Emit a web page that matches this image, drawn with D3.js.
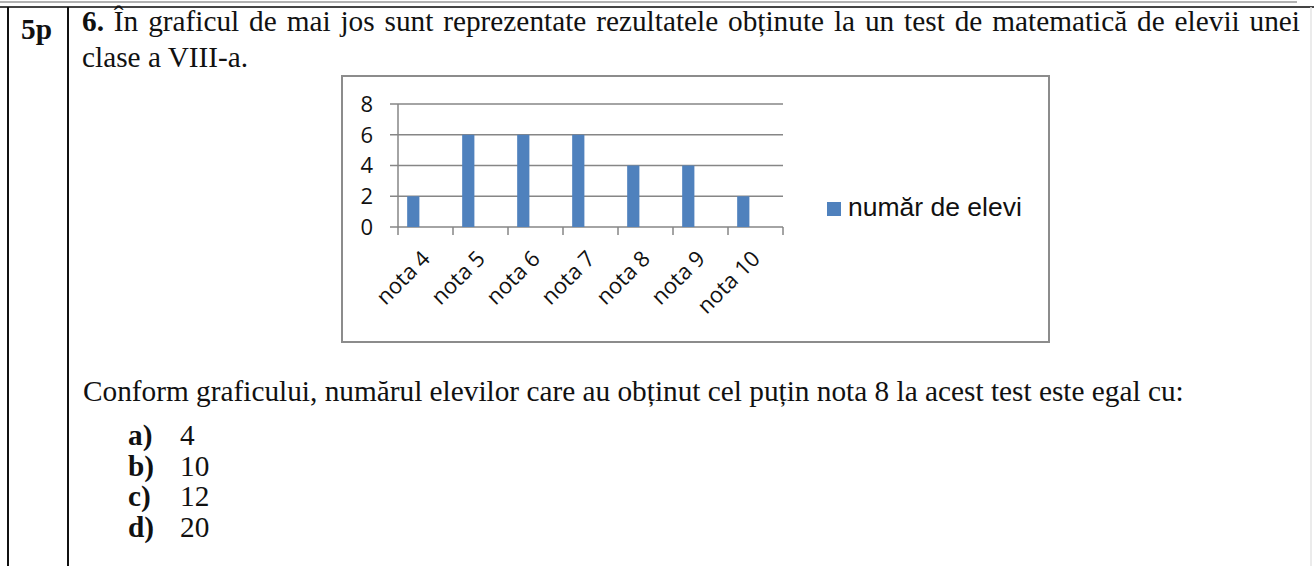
<!DOCTYPE html>
<html>
<head>
<meta charset="utf-8">
<script src="https://cdnjs.cloudflare.com/ajax/libs/d3/7.8.5/d3.min.js"></script>
<style>
  body { margin: 0; background: #fff; }
  .serif { font-family: "Liberation Serif", "Times New Roman", serif; fill: #111; }
  .tick-label { font-family: "Open Sans", sans-serif; fill: #111; }
</style>
</head>
<body>
<div class="chart"></div>
<script>
// data
var categories = ["nota 4", "nota 5", "nota 6", "nota 7", "nota 8", "nota 9", "nota 10"];
var values = [2, 6, 6, 6, 4, 4, 2];
var yTicks = [0, 2, 4, 6, 8];
var seriesName = "număr de elevi";
var answers = [["a)", "4"], ["b)", "10"], ["c)", "12"], ["d)", "20"]];

var svgWidth = 1314;
var svgHeight = 566;
var textSize = 29.3;

var svg = d3.select(".chart")
  .append("svg")
  .attr("width", svgWidth)
  .attr("height", svgHeight);

svg.append("rect")
  .attr("width", svgWidth)
  .attr("height", svgHeight)
  .attr("fill", "#fff");

// page frame: top rules and table borders
svg.append("line").attr("x1", 0).attr("x2", 1297).attr("y1", 2).attr("y2", 2)
  .attr("stroke", "#999").attr("stroke-width", 1.5);
svg.append("line").attr("x1", 0).attr("x2", svgWidth).attr("y1", 7).attr("y2", 7)
  .attr("stroke", "#444").attr("stroke-width", 2);
svg.append("line").attr("x1", 8).attr("x2", 8).attr("y1", 7).attr("y2", svgHeight)
  .attr("stroke", "#111").attr("stroke-width", 2);
svg.append("line").attr("x1", 68).attr("x2", 68).attr("y1", 7).attr("y2", svgHeight)
  .attr("stroke", "#111").attr("stroke-width", 2);
svg.append("line").attr("x1", 1311).attr("x2", 1311).attr("y1", 7).attr("y2", svgHeight)
  .attr("stroke", "#e4e4e4").attr("stroke-width", 1.5);

// question text
svg.append("text").attr("class", "serif")
  .attr("x", 21).attr("y", 39)
  .attr("font-size", textSize).attr("font-weight", "bold")
  .text("5p");

// first line is justified: spread the words to fill the column
var line1 = svg.append("text").attr("class", "serif")
  .attr("x", 82).attr("y", 31)
  .attr("font-size", textSize);
line1.append("tspan").attr("font-weight", "bold").text("6.");
line1.append("tspan").text(" În graficul de mai jos sunt reprezentate rezultatele obținute la un test de matematică de elevii unei");
var natural = line1.node().getComputedTextLength();
var gaps = 17;
line1.attr("word-spacing", Math.max(0, (1218 - natural) / gaps));

svg.append("text").attr("class", "serif")
  .attr("x", 82).attr("y", 67)
  .attr("font-size", textSize)
  .text("clase a VIII-a.");

svg.append("text").attr("class", "serif")
  .attr("x", 83).attr("y", 401)
  .attr("font-size", textSize)
  .text("Conform graficului, numărul elevilor care au obținut cel puțin nota 8 la acest test este egal cu:");

var ansY = d3.scalePoint().domain(answers.map(function(d) { return d[0]; })).range([445, 537]);
var ans = svg.selectAll(".ans")
  .data(answers)
  .enter()
  .append("g")
  .attr("class", "ans");
ans.append("text").attr("class", "serif")
  .attr("x", 128)
  .attr("y", function(d) { return ansY(d[0]); })
  .attr("font-size", textSize).attr("font-weight", "bold")
  .text(function(d) { return d[0]; });
ans.append("text").attr("class", "serif")
  .attr("x", 180)
  .attr("y", function(d) { return ansY(d[0]); })
  .attr("font-size", textSize)
  .text(function(d) { return d[1]; });

// chart box
svg.append("rect")
  .attr("x", 342).attr("y", 76)
  .attr("width", 707).attr("height", 266)
  .attr("fill", "#fff")
  .attr("stroke", "#8c8c8c")
  .attr("stroke-width", 2);

var plot = { left: 398, right: 783, top: 104, bottom: 227 };

var xBandScale = d3.scaleBand()
  .domain(categories)
  .range([plot.left, plot.right]);

// three series slots per category, only the first one carries data
var xSlot = d3.scaleBand()
  .domain([0, 1, 2])
  .range([0, xBandScale.bandwidth()])
  .paddingInner(0)
  .paddingOuter(0.75);

var yLinearScale = d3.scaleLinear()
  .domain([0, 8])
  .range([plot.bottom, plot.top]);

var gridColor = "#868686";

// gridlines
svg.selectAll(".grid")
  .data(yTicks)
  .enter()
  .append("line")
  .attr("x1", plot.left - 8)
  .attr("x2", plot.right)
  .attr("y1", function(d) { return yLinearScale(d); })
  .attr("y2", function(d) { return yLinearScale(d); })
  .attr("stroke", gridColor)
  .attr("stroke-width", 1.5);

// y axis line
svg.append("line")
  .attr("x1", plot.left).attr("x2", plot.left)
  .attr("y1", plot.top).attr("y2", plot.bottom)
  .attr("stroke", gridColor).attr("stroke-width", 1.5);

// category tick marks at band edges
var edges = categories.map(function(c) { return xBandScale(c); }).concat([plot.right]);
svg.selectAll(".xtick")
  .data(edges)
  .enter()
  .append("line")
  .attr("x1", function(d) { return d; })
  .attr("x2", function(d) { return d; })
  .attr("y1", plot.bottom)
  .attr("y2", plot.bottom + 8)
  .attr("stroke", gridColor).attr("stroke-width", 1.5);

// bars
svg.selectAll(".bar")
  .data(values)
  .enter()
  .append("rect")
  .attr("x", function(d, i) { return xBandScale(categories[i]) + xSlot(0); })
  .attr("y", function(d) { return yLinearScale(d); })
  .attr("width", xSlot.bandwidth())
  .attr("height", function(d) { return yLinearScale(0) - yLinearScale(d); })
  .attr("fill", "#4f81bd");

// y labels
svg.selectAll(".ylab")
  .data(yTicks)
  .enter()
  .append("text")
  .attr("class", "tick-label")
  .attr("x", plot.left - 25)
  .attr("y", function(d) { return yLinearScale(d); })
  .attr("dy", "0.36em")
  .attr("text-anchor", "end")
  .attr("font-size", 22)
  .text(function(d) { return d; });

// x labels, rotated
svg.selectAll(".xlab")
  .data(categories)
  .enter()
  .append("text")
  .attr("class", "tick-label")
  .attr("text-anchor", "end")
  .attr("font-size", 22)
  .attr("transform", function(d) {
    var cx = xBandScale(d) + xBandScale.bandwidth() / 2 + 6;
    return "translate(" + cx + "," + (plot.bottom + 33) + ") rotate(-45)";
  })
  .text(function(d) { return d; });

// legend
svg.append("rect")
  .attr("x", 827).attr("y", 202)
  .attr("width", 14).attr("height", 14)
  .attr("fill", "#4f81bd");
svg.append("text")
  .attr("x", 848).attr("y", 216)
  .attr("font-family", "Liberation Sans, Arial, sans-serif")
  .attr("font-size", 26.5)
  .attr("fill", "#111")
  .text(seriesName);
</script>
</body>
</html>
